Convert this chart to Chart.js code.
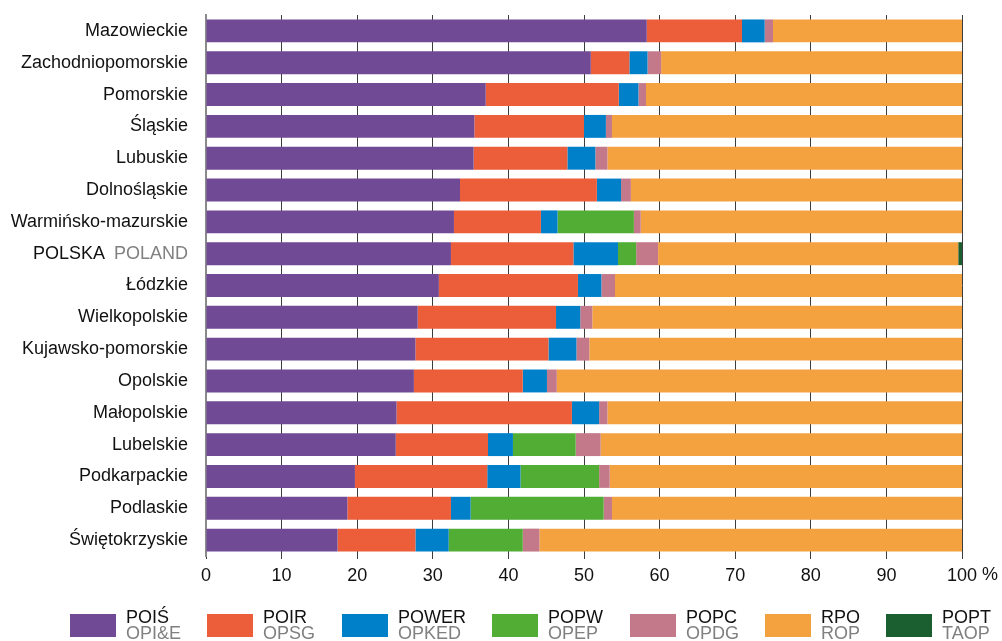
<!DOCTYPE html>
<html>
<head>
<meta charset="utf-8">
<script src="https://cdn.jsdelivr.net/npm/chart.js@4/dist/chart.umd.min.js"></script>
<style>
  html, body { margin: 0; padding: 0; background: #fff; }
  #wrap { position: relative; width: 1002px; height: 641px; overflow: hidden; }
  #chart { position: absolute; left: 0; top: 0; }
  #legend { position: absolute; left: 0; top: 609px; width: 1002px; height: 40px; font-family: "Liberation Sans", Arial, sans-serif; font-size: 18px; }
  .item { position: absolute; top: 0; display: flex; align-items: flex-start; }
  .box { width: 46px; height: 23px; margin-top: 5px; margin-right: 10px; }
  .txt { white-space: nowrap; }
  .t1 { color: #111; line-height: 16px; }
  .t2 { color: #808080; line-height: 16px; }
</style>
</head>
<body>
<div id="wrap">
  <canvas id="chart" width="1002" height="641"></canvas>
  <div id="legend"></div>
</div>
<script>
const categories = ["Mazowieckie", "Zachodniopomorskie", "Pomorskie", "Śląskie", "Lubuskie", "Dolnośląskie", "Warmińsko-mazurskie", "POLSKA POLAND", "Łódzkie", "Wielkopolskie", "Kujawsko-pomorskie", "Opolskie", "Małopolskie", "Lubelskie", "Podkarpackie", "Podlaskie", "Świętokrzyskie"];
const poisVals  = [58.3, 50.9, 37.0, 35.5, 35.4, 33.6, 32.8, 32.4, 30.8, 28.0, 27.7, 27.5, 25.2, 25.1, 19.7, 18.7, 17.4];
const poirVals  = [12.6, 5.1, 17.6, 14.5, 12.4, 18.1, 11.5, 16.2, 18.4, 18.3, 17.6, 14.4, 23.2, 12.2, 17.5, 13.7, 10.3];
const powerVals = [3.0, 2.4, 2.6, 2.9, 3.7, 3.2, 2.2, 5.9, 3.1, 3.2, 3.7, 3.2, 3.6, 3.3, 4.4, 2.6, 4.4];
const popwVals  = [null, null, null, null, null, null, 10.1, 2.4, null, null, null, null, null, 8.3, 10.4, 17.6, 9.8];
const popcVals  = [1.1, 1.8, 1.0, 0.8, 1.6, 1.3, 0.9, 2.9, 1.8, 1.6, 1.7, 1.3, 1.1, 3.3, 1.4, 1.1, 2.2];
const rpoVals   = [25.0, 39.8, 41.8, 46.3, 46.9, 43.8, 42.5, 39.7, 45.9, 48.9, 49.3, 53.6, 46.9, 47.8, 46.6, 46.3, 55.9];
const poptVals  = [null, null, null, null, null, null, null, 0.5, null, null, null, null, null, null, null, null, null];
const seriesNames = ["POIŚ", "POIR", "POWER", "POPW", "POPC", "RPO", "POPT"];
const seriesNamesEn = ["OPI&E", "OPSG", "OPKED", "OPEP", "OPDG", "ROP", "TAOP"];
const xTicks = [0, 10, 20, 30, 40, 50, 60, 70, 80, 90, 100];
const colors = ["#714a95", "#ec5d39", "#0080c8", "#52ad35", "#c37989", "#f4a240", "#1b5e30"];
const seriesValues = [poisVals, poirVals, powerVals, popwVals, popcVals, rpoVals, poptVals];

const FONT = '"Liberation Sans", Arial, sans-serif';
const polskaIndex = 7;
const labelGap = 18;
const legendLeft = [70, 207, 342, 492, 630, 765, 886];

const overlay = {
  id: 'overlay',
  afterDraw(chart) {
    const ctx = chart.ctx;
    const y = chart.scales.y;
    const x = chart.scales.x;
    ctx.save();
    ctx.font = '18px ' + FONT;
    ctx.textBaseline = 'middle';
    ctx.textAlign = 'right';
    const yy = y.getPixelForTick(polskaIndex);
    const right = chart.chartArea.left - labelGap;
    const parts = categories[polskaIndex].split(' ');
    ctx.fillStyle = '#808080';
    ctx.fillText(parts[1], right, yy);
    const w = ctx.measureText(parts[1]).width;
    ctx.fillStyle = '#111';
    ctx.fillText(parts[0], right - w - 9, yy);
    ctx.textAlign = 'left';
    ctx.textBaseline = 'top';
    const px = x.getPixelForValue(100);
    ctx.fillText('%', px + 20, chart.chartArea.bottom + 10);
    ctx.restore();
  }
};

new Chart(document.getElementById('chart'), {
  type: 'bar',
  data: {
    labels: categories,
    datasets: seriesNames.map((n, i) => ({
      label: n,
      data: seriesValues[i],
      backgroundColor: colors[i],
      borderWidth: 0,
      barPercentage: 0.72,
      categoryPercentage: 1.0
    }))
  },
  options: {
    indexAxis: 'y',
    responsive: false,
    animation: false,
    events: [],
    layout: { padding: { top: 15, right: 40, bottom: 0, left: 0 } },
    plugins: { legend: { display: false }, tooltip: { enabled: false } },
    scales: {
      x: {
        stacked: true,
        min: 0, max: 100,
        afterBuildTicks(scale) { scale.ticks = xTicks.map(v => ({ value: v })); },
        afterFit(scale) { scale.height = 85; },
        grid: { color: '#3c3c3c', lineWidth: 1, drawTicks: true, tickLength: 3, tickColor: '#3c3c3c' },
        border: { display: false },
        ticks: { color: '#111', font: { family: FONT, size: 18 }, padding: 6, maxRotation: 0 }
      },
      y: {
        stacked: true,
        afterFit(scale) { scale.width = 206; scale.paddingTop = 0; scale.paddingBottom = 0; },
        grid: { display: false, drawTicks: false },
        border: { display: true, color: '#8a8a8a', width: 2 },
        ticks: {
          color: (c) => c.index === polskaIndex ? 'rgba(0,0,0,0)' : '#111',
          font: { family: FONT, size: 18 },
          padding: labelGap
        }
      }
    }
  },
  plugins: [overlay]
});

const legend = document.getElementById('legend');
seriesNames.forEach((n, i) => {
  const it = document.createElement('div');
  it.className = 'item';
  it.style.left = legendLeft[i] + 'px';
  it.innerHTML = '<div class="box" style="background:' + colors[i] + '"></div><div class="txt"><div class="t1">' + n + '</div><div class="t2">' + seriesNamesEn[i].replace('&', '&amp;') + '</div></div>';
  legend.appendChild(it);
});
</script>
</body>
</html>
